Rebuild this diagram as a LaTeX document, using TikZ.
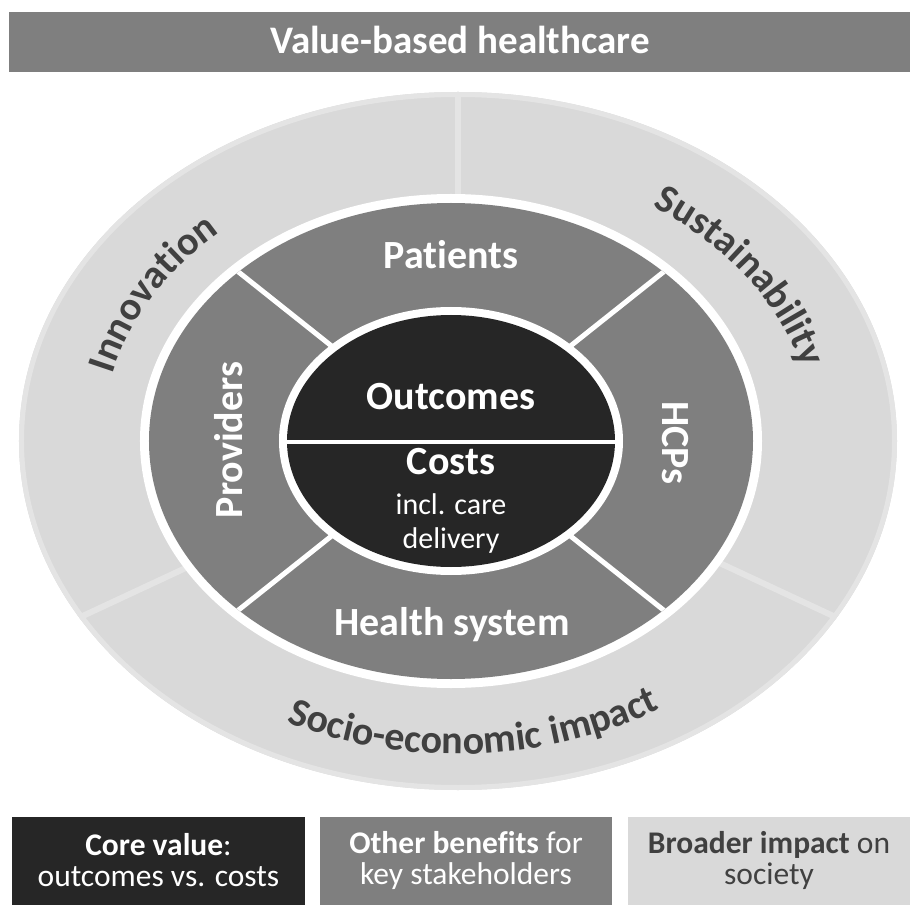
\documentclass[tikz,border=0pt]{standalone}
\usepackage{fontspec}
\setmainfont{Carlito}[Ligatures=CommonOff]
\usetikzlibrary{decorations.text}
\definecolor{coredark}{HTML}{262626}
\definecolor{midgray}{HTML}{7F7F7F}
\definecolor{ringgray}{HTML}{D9D9D9}
\definecolor{ringedge}{HTML}{E4E4E4}
\definecolor{ringtext}{HTML}{404040}
\newcommand{\ringfont}{\fontsize{40}{40}\selectfont\bfseries\color{ringtext}}
\tikzset{
	whitelabel/.style={font=\fontsize{40}{40}\selectfont\bfseries, text=white, inner sep=0pt}
}
\tikzset{
	smalllabel/.style={font=\fontsize{30}{30}\selectfont, text=white, inner sep=0pt}
}
\tikzset{
	legendbox/.style={minimum height=88pt, inner sep=0pt, align=center,
		font=\fontsize{31.5}{31}\selectfont}
}

\begin{document}
\begin{tikzpicture}[x=1pt, y=1pt]
      \useasboundingbox (-451,-464) rectangle (459,441);

      % title bar
      \fill[midgray] (-442,369) rectangle (459,429);
      \node[whitelabel, font=\fontsize{39}{39}\selectfont\bfseries, anchor=base] (title) at (9,387) {Value-based healthcare};

      % outer ring: broader impact
      \fill[ringgray] (7,0) ellipse [x radius=439, y radius=349];
      \begin{scope}
        \clip (7,0) ellipse [x radius=439, y radius=349];
        \foreach \a in {90,205,335}
          \draw[ringedge, line width=6pt] (7,0) -- ++(\a:500);
      \end{scope}
      \draw[ringedge, line width=5pt] (7,0) ellipse [x radius=436.5, y radius=346.5];

      % white gap and stakeholder ring
      \fill[white] (0,0) ellipse [x radius=311, y radius=247];
      \fill[midgray] (0,0) ellipse [x radius=302, y radius=238];
      \begin{scope}
        \clip (0,0) ellipse [x radius=302, y radius=238];
        \foreach \a in {38.5,141.5}
          \draw[white, line width=5pt] (\a:400) -- (\a+180:400);
      \end{scope}

      % core value
      \fill[white] (0,0) ellipse [x radius=172, y radius=134];
      \fill[coredark] (0,0) ellipse [x radius=164, y radius=126];
      \draw[white, line width=4.5pt] (-168,-1) -- (168,-1);

      % labels in the core
      \node[whitelabel, anchor=base] (outcomes) at (0,32) {Outcomes};
      \node[whitelabel, anchor=base] (costs) at (0,-33) {Costs};
      \node[smalllabel, anchor=base] (incl) at (0,-73) {incl. care};
      \node[smalllabel, anchor=base] (delivery) at (0,-107) {delivery};

      % stakeholders
      \node[whitelabel, anchor=base] (patients) at (0,172) {Patients};
      \node[whitelabel, anchor=base] (healthsys) at (1,-194) {Health system};
      \node[whitelabel, rotate=90] (providers) at (-222,1) {Providers};
      \node[whitelabel, rotate=-90] (hcps) at (224,-2) {HCPs};

      % text along the outer ring
      \path[shift={(7,0)}, decorate, decoration={text along path, text align=center,
          text={|\ringfont|Innovation}}]
        (213:356 and 280) arc[start angle=213, end angle=93, x radius=356, y radius=280];
      \path[shift={(7,0)}, decorate, decoration={text along path, text align=center,
          text={|\ringfont|Sustainability}}]
        (92:356 and 280) arc[start angle=92, end angle=-28, x radius=356, y radius=280];
      \path[shift={(7,0)}, decorate, decoration={text along path, text align=center,
          text={|\ringfont|Socio-economic impact}}]
        (203:390 and 313) arc[start angle=203, end angle=343, x radius=390, y radius=313];

      % legend
      \node[legendbox, fill=coredark, text=white, minimum width=293pt] (corebox) at (-292.5,-419.5)
        {\textbf{Core value}:\\outcomes vs. costs};
      \node[legendbox, fill=midgray, text=white, minimum width=292pt] (otherbox) at (15,-419.5)
        {\textbf{Other benefits} for\\key stakeholders};
      \node[legendbox, fill=ringgray, text=ringtext, minimum width=282pt] (broadbox) at (318,-419.5)
        {\textbf{Broader impact} on\\society};
    \end{tikzpicture}
\end{document}
